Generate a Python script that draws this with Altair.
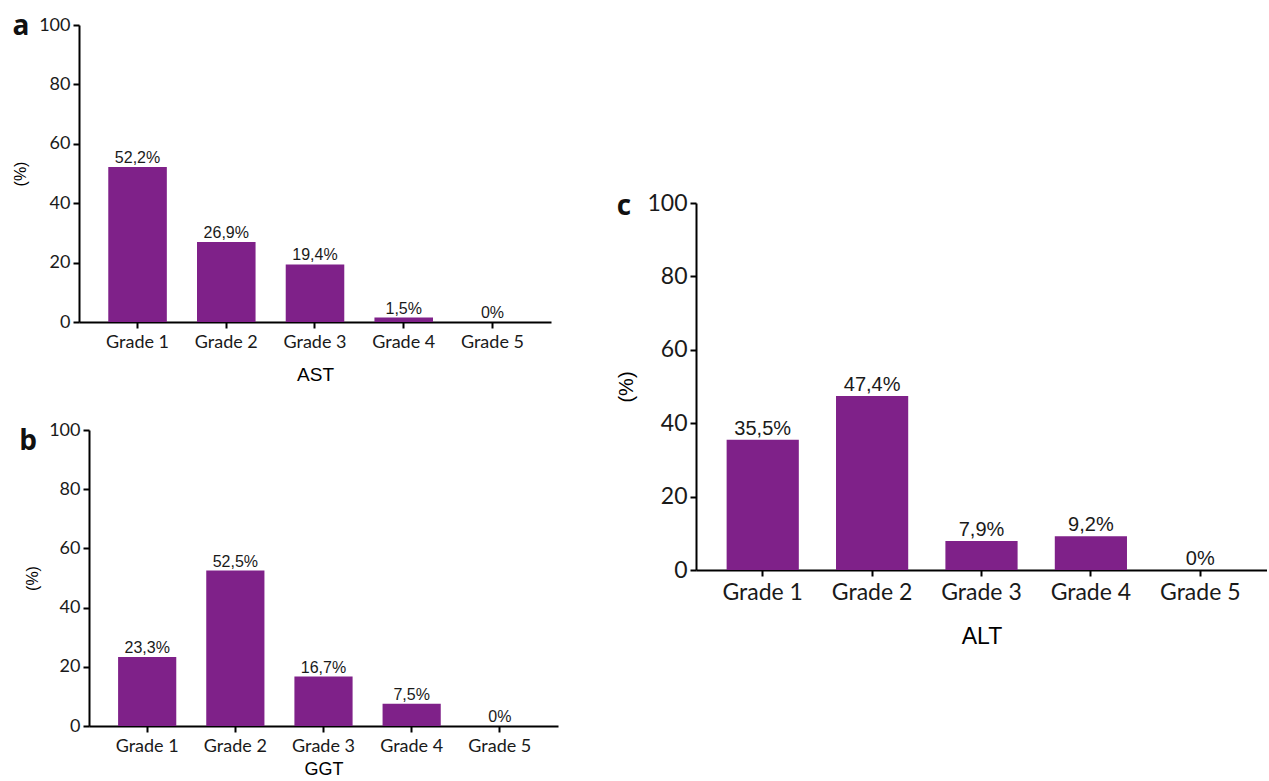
import altair as alt
import pandas as pd

grades = ["Grade 1", "Grade 2", "Grade 3", "Grade 4", "Grade 5"]
ast_values = [52.2, 26.9, 19.4, 1.5, 0.0]
ggt_values = [23.3, 52.5, 16.7, 7.5, 0.0]
alt_values = [35.5, 47.4, 7.9, 9.2, 0.0]
y_ticks = [0, 20, 40, 60, 80, 100]

PURPLE = "#7f2189"
INK = "#1a1a1a"


def fmt(v):
    return "0%" if v == 0 else f"{v:.1f}".replace(".", ",") + "%"


def panel(values, letter, xtitle, width, height, xrange, yrange, yoffset,
          tick_fs, xlab_fs, val_fs, title_fs, ytitle_pad, xtitle_pad,
          letter_x, letter_y, letter_fs, pad_inner, pad_outer):
    df = pd.DataFrame({"grade": grades, "value": values,
                       "label": [fmt(v) for v in values]})
    x = alt.X("grade:N", sort=grades, title=xtitle,
              scale=alt.Scale(range=xrange, paddingInner=pad_inner, paddingOuter=pad_outer),
              axis=alt.Axis(labelAngle=0, labelFont="Lato", labelFontSize=xlab_fs,
                            labelColor=INK, labelPadding=5,
                            domainColor="black", domainWidth=2,
                            tickColor="black", tickWidth=2, tickSize=6,
                            titleFont="Liberation Sans", titleFontWeight="normal",
                            titleFontSize=title_fs, titleColor="black",
                            titlePadding=xtitle_pad, grid=False))
    y = alt.Y("value:Q", title="(%)",
              scale=alt.Scale(domain=[0, 100], nice=False, range=yrange),
              axis=alt.Axis(values=y_ticks, labelFont="Lato", labelFontSize=tick_fs,
                            labelColor=INK, labelPadding=3, offset=yoffset,
                            domainColor="black", domainWidth=2,
                            tickColor="black", tickWidth=2, tickSize=6,
                            titleFont="Liberation Sans", titleFontWeight="normal",
                            titleFontSize=val_fs, titleColor="black",
                            titlePadding=ytitle_pad, grid=False))
    base = alt.Chart(df)
    bars = base.mark_bar(color=PURPLE).encode(x=x, y=y)
    labels = base.mark_text(font="Liberation Sans", fontSize=val_fs, baseline="bottom",
                            dy=-1, color=INK).encode(x=x, y=y, text="label:N")
    let = alt.Chart(pd.DataFrame({"t": [letter]})).mark_text(
        font="Open Sans", fontWeight="bold", fontSize=letter_fs, align="center",
        baseline="alphabetic", color="#111111").encode(
        x=alt.value(letter_x), y=alt.value(letter_y), text="t:N")
    return alt.layer(bars, labels, let).properties(
        width=width, height=height,
        view=alt.ViewBackground(stroke="transparent", strokeWidth=0))


a = panel(ast_values, "a", "AST", 472, 297, [0, 472], [297, 0], 0,
          18, 18, 16, 19, 10, 14, -58, 10, 28, 0.34, 0.33)
b = panel(ggt_values, "b", "GGT", 479, 296, [10, 479], [296, 0], -10,
          18, 18, 16, 18, 8, 5, -51, 20, 28, 0.34, 0.33)
c = panel(alt_values, "c", "ALT", 571, 545, [0, 571], [545, 178], 0,
          23, 23, 20, 23, 10, 21, -72, 190, 28, 0.34, 0.28)

left = alt.vconcat(a, b, spacing=37)
chart = alt.hconcat(left, c, spacing=58).properties(
    padding={"left": 12, "top": 13, "right": 0, "bottom": 0}
).configure_view(strokeWidth=0, stroke="transparent").configure(background="white")

chart.save("out.html", embed_options={"renderer": "svg", "actions": False})
